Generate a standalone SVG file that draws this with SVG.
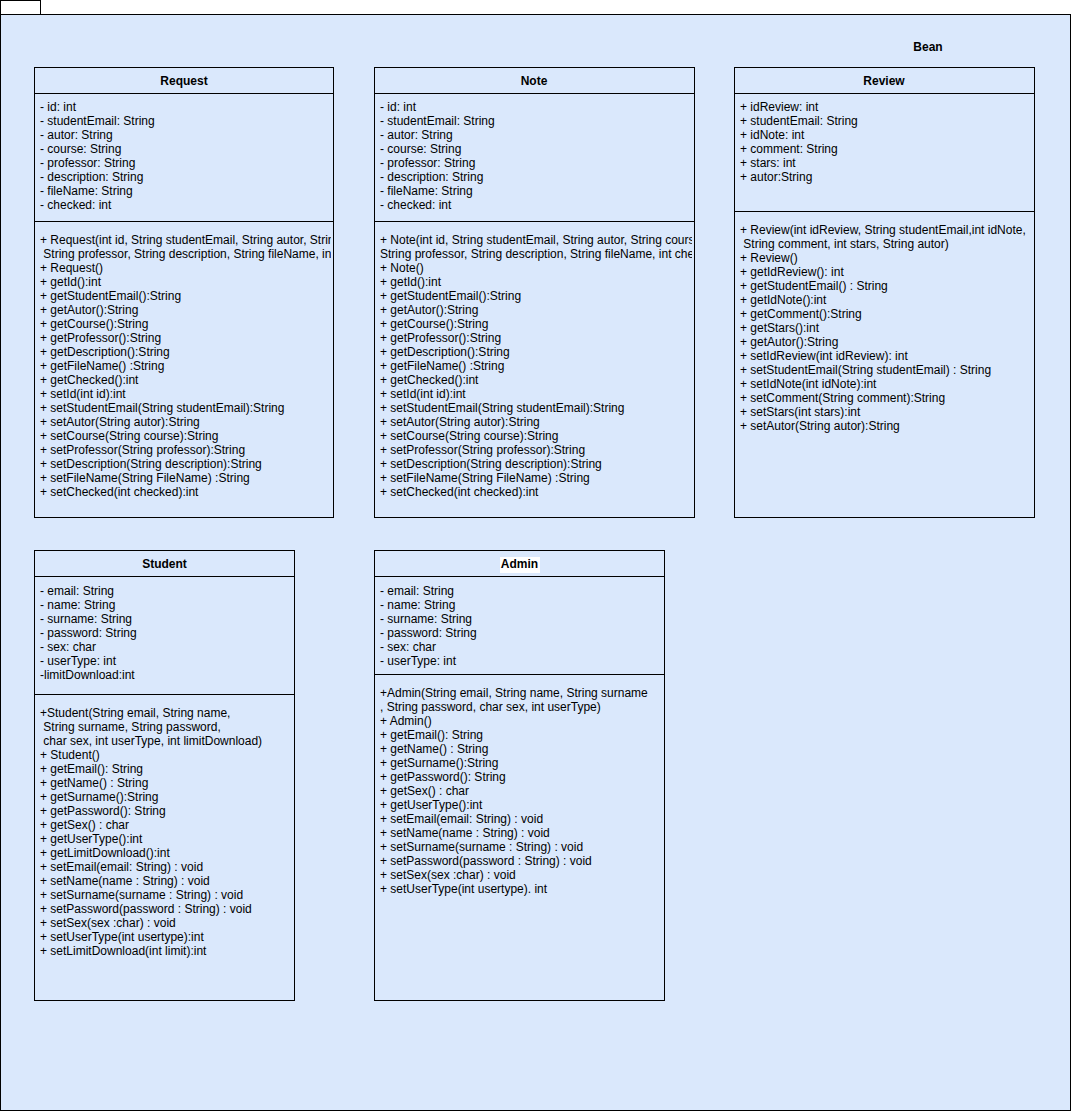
<svg xmlns="http://www.w3.org/2000/svg" width="1071" height="1112" viewBox="0 0 1071 1112">
<style>
.box{fill:#dae8fc;stroke:#000;stroke-width:1}
.ln{stroke:#000;stroke-width:1;fill:none}
.t{font-family:"Liberation Sans",Arial,sans-serif;font-size:12px;fill:#000}
.b{font-weight:bold;text-anchor:middle}
</style>
<defs>
<clipPath id="cReq"><rect x="35" y="68" width="296" height="449"/></clipPath>
<clipPath id="cNote"><rect x="375" y="68" width="317" height="449"/></clipPath>
<clipPath id="cRev"><rect x="735" y="68" width="297" height="449"/></clipPath>
<clipPath id="cStu"><rect x="35" y="551" width="257" height="449"/></clipPath>
<clipPath id="cAdm"><rect x="375" y="551" width="287" height="449"/></clipPath>
</defs>
<g id="package-bean">
<rect x="0.5" y="0.5" width="40" height="14" fill="#fff" stroke="#000"/>
<rect class="box" x="0.5" y="14.5" width="1070" height="1096"/>
<text class="t b" x="928" y="51">Bean</text>
</g>
<g id="connectors"/>
<g id="node-request">
<rect class="box" x="34.5" y="67.5" width="299" height="450"/>
<line class="ln" x1="34.5" y1="93.5" x2="333.5" y2="93.5"/>
<line class="ln" x1="34.5" y1="221.5" x2="333.5" y2="221.5"/>
<text class="t b" x="184" y="85">Request</text>
<g clip-path="url(#cReq)">
<text class="t" x="40" y="111" xml:space="preserve"><tspan x="40" y="111">- id: int</tspan><tspan x="40" dy="14">- studentEmail: String</tspan><tspan x="40" dy="14">- autor: String</tspan><tspan x="40" dy="14">- course: String</tspan><tspan x="40" dy="14">- professor: String</tspan><tspan x="40" dy="14">- description: String</tspan><tspan x="40" dy="14">- fileName: String</tspan><tspan x="40" dy="14">- checked: int</tspan></text>
<text class="t" x="40" y="244" xml:space="preserve"><tspan x="40" y="244">+ Request(int id, String studentEmail, String autor, String course,</tspan><tspan x="40" dy="14"> String professor, String description, String fileName, int checked)</tspan><tspan x="40" dy="14">+ Request()</tspan><tspan x="40" dy="14">+ getId():int</tspan><tspan x="40" dy="14">+ getStudentEmail():String</tspan><tspan x="40" dy="14">+ getAutor():String</tspan><tspan x="40" dy="14">+ getCourse():String</tspan><tspan x="40" dy="14">+ getProfessor():String</tspan><tspan x="40" dy="14">+ getDescription():String</tspan><tspan x="40" dy="14">+ getFileName() :String</tspan><tspan x="40" dy="14">+ getChecked():int</tspan><tspan x="40" dy="14">+ setId(int id):int</tspan><tspan x="40" dy="14">+ setStudentEmail(String studentEmail):String</tspan><tspan x="40" dy="14">+ setAutor(String autor):String</tspan><tspan x="40" dy="14">+ setCourse(String course):String</tspan><tspan x="40" dy="14">+ setProfessor(String professor):String</tspan><tspan x="40" dy="14">+ setDescription(String description):String</tspan><tspan x="40" dy="14">+ setFileName(String FileName) :String</tspan><tspan x="40" dy="14">+ setChecked(int checked):int</tspan></text>
</g>
</g>
<g id="node-note">
<rect class="box" x="374.5" y="67.5" width="320" height="450"/>
<line class="ln" x1="374.5" y1="93.5" x2="694.5" y2="93.5"/>
<line class="ln" x1="374.5" y1="221.5" x2="694.5" y2="221.5"/>
<text class="t b" x="534" y="85">Note</text>
<g clip-path="url(#cNote)">
<text class="t" x="380" y="111" xml:space="preserve"><tspan x="380" y="111">- id: int</tspan><tspan x="380" dy="14">- studentEmail: String</tspan><tspan x="380" dy="14">- autor: String</tspan><tspan x="380" dy="14">- course: String</tspan><tspan x="380" dy="14">- professor: String</tspan><tspan x="380" dy="14">- description: String</tspan><tspan x="380" dy="14">- fileName: String</tspan><tspan x="380" dy="14">- checked: int</tspan></text>
<text class="t" x="380" y="244" xml:space="preserve"><tspan x="380" y="244">+ Note(int id, String studentEmail, String autor, String course,</tspan><tspan x="380" dy="14">String professor, String description, String fileName, int checked)</tspan><tspan x="380" dy="14">+ Note()</tspan><tspan x="380" dy="14">+ getId():int</tspan><tspan x="380" dy="14">+ getStudentEmail():String</tspan><tspan x="380" dy="14">+ getAutor():String</tspan><tspan x="380" dy="14">+ getCourse():String</tspan><tspan x="380" dy="14">+ getProfessor():String</tspan><tspan x="380" dy="14">+ getDescription():String</tspan><tspan x="380" dy="14">+ getFileName() :String</tspan><tspan x="380" dy="14">+ getChecked():int</tspan><tspan x="380" dy="14">+ setId(int id):int</tspan><tspan x="380" dy="14">+ setStudentEmail(String studentEmail):String</tspan><tspan x="380" dy="14">+ setAutor(String autor):String</tspan><tspan x="380" dy="14">+ setCourse(String course):String</tspan><tspan x="380" dy="14">+ setProfessor(String professor):String</tspan><tspan x="380" dy="14">+ setDescription(String description):String</tspan><tspan x="380" dy="14">+ setFileName(String FileName) :String</tspan><tspan x="380" dy="14">+ setChecked(int checked):int</tspan></text>
</g>
</g>
<g id="node-review">
<rect class="box" x="734.5" y="67.5" width="300" height="450"/>
<line class="ln" x1="734.5" y1="93.5" x2="1034.5" y2="93.5"/>
<line class="ln" x1="734.5" y1="211.5" x2="1034.5" y2="211.5"/>
<text class="t b" x="884" y="85">Review</text>
<g clip-path="url(#cRev)">
<text class="t" x="740" y="111" xml:space="preserve"><tspan x="740" y="111">+ idReview: int</tspan><tspan x="740" dy="14">+ studentEmail: String</tspan><tspan x="740" dy="14">+ idNote: int</tspan><tspan x="740" dy="14">+ comment: String</tspan><tspan x="740" dy="14">+ stars: int</tspan><tspan x="740" dy="14">+ autor:String</tspan></text>
<text class="t" x="740" y="234" xml:space="preserve"><tspan x="740" y="234">+ Review(int idReview, String studentEmail,int idNote,</tspan><tspan x="740" dy="14"> String comment, int stars, String autor)</tspan><tspan x="740" dy="14">+ Review()</tspan><tspan x="740" dy="14">+ getIdReview(): int</tspan><tspan x="740" dy="14">+ getStudentEmail() : String</tspan><tspan x="740" dy="14">+ getIdNote():int</tspan><tspan x="740" dy="14">+ getComment():String</tspan><tspan x="740" dy="14">+ getStars():int</tspan><tspan x="740" dy="14">+ getAutor():String</tspan><tspan x="740" dy="14">+ setIdReview(int idReview): int</tspan><tspan x="740" dy="14">+ setStudentEmail(String studentEmail) : String</tspan><tspan x="740" dy="14">+ setIdNote(int idNote):int</tspan><tspan x="740" dy="14">+ setComment(String comment):String</tspan><tspan x="740" dy="14">+ setStars(int stars):int</tspan><tspan x="740" dy="14">+ setAutor(String autor):String</tspan></text>
</g>
</g>
<g id="node-student">
<rect class="box" x="34.5" y="550.5" width="260" height="450"/>
<line class="ln" x1="34.5" y1="576.5" x2="294.5" y2="576.5"/>
<line class="ln" x1="34.5" y1="694.5" x2="294.5" y2="694.5"/>
<text class="t b" x="164.5" y="568">Student</text>
<g clip-path="url(#cStu)">
<text class="t" x="40" y="595" xml:space="preserve"><tspan x="40" y="595">- email: String</tspan><tspan x="40" dy="14">- name: String</tspan><tspan x="40" dy="14">- surname: String</tspan><tspan x="40" dy="14">- password: String</tspan><tspan x="40" dy="14">- sex: char</tspan><tspan x="40" dy="14">- userType: int</tspan><tspan x="40" dy="14">-limitDownload:int</tspan></text>
<text class="t" x="40" y="717" xml:space="preserve"><tspan x="40" y="717">+Student(String email, String name,</tspan><tspan x="40" dy="14"> String surname, String password,</tspan><tspan x="40" dy="14"> char sex, int userType, int limitDownload)</tspan><tspan x="40" dy="14">+ Student()</tspan><tspan x="40" dy="14">+ getEmail(): String</tspan><tspan x="40" dy="14">+ getName() : String</tspan><tspan x="40" dy="14">+ getSurname():String</tspan><tspan x="40" dy="14">+ getPassword(): String</tspan><tspan x="40" dy="14">+ getSex() : char</tspan><tspan x="40" dy="14">+ getUserType():int</tspan><tspan x="40" dy="14">+ getLimitDownload():int</tspan><tspan x="40" dy="14">+ setEmail(email: String) : void</tspan><tspan x="40" dy="14">+ setName(name : String) : void</tspan><tspan x="40" dy="14">+ setSurname(surname : String) : void</tspan><tspan x="40" dy="14">+ setPassword(password : String) : void</tspan><tspan x="40" dy="14">+ setSex(sex :char) : void</tspan><tspan x="40" dy="14">+ setUserType(int usertype):int</tspan><tspan x="40" dy="14">+ setLimitDownload(int limit):int</tspan></text>
</g>
</g>
<g id="node-admin">
<rect class="box" x="374.5" y="550.5" width="290" height="450"/>
<line class="ln" x1="374.5" y1="576.5" x2="664.5" y2="576.5"/>
<line class="ln" x1="374.5" y1="674.5" x2="664.5" y2="674.5"/>
<rect x="500" y="557" width="40" height="16" fill="#fff"/>
<text class="t b" x="519.5" y="568">Admin</text>
<g clip-path="url(#cAdm)">
<text class="t" x="380" y="595" xml:space="preserve"><tspan x="380" y="595">- email: String</tspan><tspan x="380" dy="14">- name: String</tspan><tspan x="380" dy="14">- surname: String</tspan><tspan x="380" dy="14">- password: String</tspan><tspan x="380" dy="14">- sex: char</tspan><tspan x="380" dy="14">- userType: int</tspan></text>
<text class="t" x="380" y="697" xml:space="preserve"><tspan x="380" y="697">+Admin(String email, String name, String surname</tspan><tspan x="380" dy="14">, String password, char sex, int userType)</tspan><tspan x="380" dy="14">+ Admin()</tspan><tspan x="380" dy="14">+ getEmail(): String</tspan><tspan x="380" dy="14">+ getName() : String</tspan><tspan x="380" dy="14">+ getSurname():String</tspan><tspan x="380" dy="14">+ getPassword(): String</tspan><tspan x="380" dy="14">+ getSex() : char</tspan><tspan x="380" dy="14">+ getUserType():int</tspan><tspan x="380" dy="14">+ setEmail(email: String) : void</tspan><tspan x="380" dy="14">+ setName(name : String) : void</tspan><tspan x="380" dy="14">+ setSurname(surname : String) : void</tspan><tspan x="380" dy="14">+ setPassword(password : String) : void</tspan><tspan x="380" dy="14">+ setSex(sex :char) : void</tspan><tspan x="380" dy="14">+ setUserType(int usertype). int</tspan></text>
</g>
</g>
</svg>
